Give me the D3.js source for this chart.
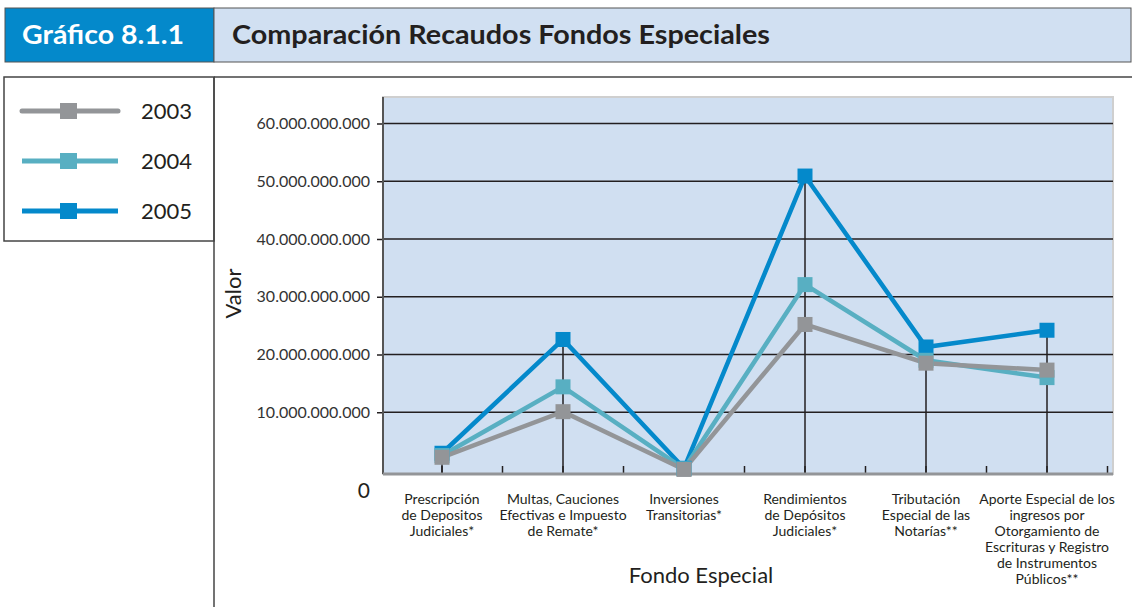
<!DOCTYPE html>
<html>
<head>
<meta charset="utf-8">
<script src="https://cdn.jsdelivr.net/npm/d3@7"></script>
<style>
  body { margin: 0; background: #fff; }
  svg { display: block; font-family: Lato, "Noto Sans", sans-serif; }
</style>
</head>
<body>
<svg id="chart" width="1132" height="607"></svg>
<script>
// data
const categories = [
  ['Prescripción', 'de Depositos', 'Judiciales*'],
  ['Multas, Cauciones', 'Efectivas e Impuesto', 'de Remate*'],
  ['Inversiones', 'Transitorias*'],
  ['Rendimientos', 'de Depósitos', 'Judiciales*'],
  ['Tributación', 'Especial de las', 'Notarías**'],
  ['Aporte Especial de los', 'ingresos por', 'Otorgamiento de', 'Escrituras y Registro', 'de Instrumentos', 'Públicos**']
];
const years = ['2003', '2004', '2005'];
const values2003 = [2.2e9, 10.1e9, 0.1e9, 25.2e9, 18.5e9, 17.3e9];
const values2004 = [2.5e9, 14.4e9, 0.2e9, 32.1e9, 19.0e9, 16.0e9];
const values2005 = [2.9e9, 22.6e9, 0.3e9, 50.9e9, 21.3e9, 24.2e9];
const yTicks = [10e9, 20e9, 30e9, 40e9, 50e9, 60e9];
const colors = { '2003': '#939598', '2004': '#58afc2', '2005': '#0489cb' };

const series = [
  { year: '2005', values: values2005 },
  { year: '2004', values: values2004 },
  { year: '2003', values: values2003 }
];

const svg = d3.select('#chart');
const ink = '#231f20';

// header
svg.append('rect').attr('x', 5).attr('y', 8).attr('width', 209).attr('height', 54).attr('fill', '#0489cb').attr('stroke', '#555').attr('stroke-width', 1);
svg.append('rect').attr('x', 214).attr('y', 8).attr('width', 917).attr('height', 54).attr('fill', '#d1e0f2').attr('stroke', '#555').attr('stroke-width', 1);
svg.append('text').attr('x', 22).attr('y', 44).text('Gráfico 8.1.1')
  .attr('textLength', 162).attr('lengthAdjust', 'spacingAndGlyphs')
  .attr('fill', '#fff').style('font-weight', 'bold').style('font-size', '26px');
svg.append('text').attr('x', 232).attr('y', 44).text('Comparación Recaudos Fondos Especiales')
  .attr('textLength', 538).attr('lengthAdjust', 'spacingAndGlyphs')
  .attr('fill', ink).style('font-weight', 'bold').style('font-size', '26px');

// frame lines
svg.append('rect').attr('x', 4).attr('y', 77).attr('width', 210).attr('height', 164).attr('fill', 'none').attr('stroke', '#444').attr('stroke-width', 1.5);
svg.append('line').attr('x1', 214).attr('y1', 77).attr('x2', 214).attr('y2', 607).attr('stroke', '#444').attr('stroke-width', 1.5);
svg.append('line').attr('x1', 214).attr('y1', 77).attr('x2', 1132).attr('y2', 77).attr('stroke', '#444').attr('stroke-width', 1.5);

// legend
const legend = svg.append('g');
years.forEach((yr, i) => {
  const ly = 111 + i * 50;
  legend.append('line').attr('x1', 22).attr('x2', 118).attr('y1', ly).attr('y2', ly)
    .attr('stroke', colors[yr]).attr('stroke-width', 5).attr('stroke-linecap', yr === '2003' ? 'round' : 'butt');
  legend.append('rect').attr('x', 60).attr('y', ly - 8).attr('width', 17).attr('height', 16).attr('fill', colors[yr]);
  legend.append('text').attr('x', 141).attr('y', ly + 8).text(yr)
    .attr('fill', ink).style('font-size', '22px');
});

// plot area
const plot = { left: 383, right: 1113, top: 97, bottom: 474 };
const x = d3.scaleBand().domain(d3.range(categories.length)).range([381.5, 1107.5]).padding(0);
const y = d3.scaleLinear().domain([0, 60e9]).range([470, 123.5]);
const cx = i => x(i) + x.bandwidth() / 2;

svg.append('rect').attr('x', plot.left).attr('y', plot.top)
  .attr('width', plot.right - plot.left).attr('height', plot.bottom - plot.top)
  .attr('fill', '#d0dff1').attr('stroke', '#cfcfcf').attr('stroke-width', 2);

const loc = d3.formatLocale({ decimal: ',', thousands: '.', grouping: [3], currency: ['$', ''] });
const fmt = loc.format(',');

// y axis with grid
const yAxis = svg.append('g').attr('transform', `translate(${plot.left},0)`)
  .call(d3.axisLeft(y).tickValues(yTicks).tickFormat(fmt).tickSize(6).tickPadding(7));
yAxis.select('.domain').remove();
yAxis.selectAll('.tick line').attr('stroke', ink).attr('stroke-width', 1.5);
yAxis.selectAll('.tick text').attr('fill', '#333').style('font-size', '16px').style('font-family', 'Lato, sans-serif');
svg.append('g').selectAll('line').data(yTicks).join('line')
  .attr('x1', plot.left).attr('x2', plot.right)
  .attr('y1', d => y(d)).attr('y2', d => y(d))
  .attr('stroke', ink).attr('stroke-width', 1.5);
svg.append('text').attr('x', plot.left - 13).attr('y', y(0) + 28).attr('text-anchor', 'end')
  .text('0').attr('fill', ink).style('font-size', '21px');
svg.append('line').attr('x1', plot.left).attr('x2', plot.left).attr('y1', plot.top).attr('y2', plot.bottom)
  .attr('stroke', '#555').attr('stroke-width', 2);

// drop lines from the highest point of each category
svg.append('g').selectAll('line').data(categories).join('line')
  .attr('x1', (d, i) => cx(i)).attr('x2', (d, i) => cx(i))
  .attr('y1', (d, i) => y(d3.max(series, s => s.values[i])))
  .attr('y2', plot.bottom)
  .attr('stroke', ink).attr('stroke-width', 1.5);

// minor ticks on x axis
const halfTicks = d3.range(categories.length * 2).map(k => x(Math.floor(k / 2)) + (k % 2 === 0 ? x.bandwidth() / 2 : x.bandwidth()));
svg.append('g').selectAll('line').data(halfTicks).join('line')
  .attr('x1', d => d).attr('x2', d => d)
  .attr('y1', plot.bottom - 8).attr('y2', plot.bottom)
  .attr('stroke', ink).attr('stroke-width', 1.5);

svg.append('line').attr('x1', plot.left).attr('x2', plot.right).attr('y1', plot.bottom).attr('y2', plot.bottom)
  .attr('stroke', '#939598').attr('stroke-width', 3);

// series
const line = d3.line().x((d, i) => cx(i)).y(d => y(d));
series.forEach(s => {
  svg.append('path').datum(s.values)
    .attr('fill', 'none').attr('stroke', colors[s.year]).attr('stroke-width', 4.5)
    .attr('stroke-linejoin', 'miter').attr('d', line);
});
series.forEach(s => {
  svg.append('g').selectAll('rect').data(s.values).join('rect')
    .attr('x', (d, i) => cx(i) - 7.5).attr('y', d => y(d) - 7.5)
    .attr('width', 15).attr('height', 15).attr('fill', colors[s.year]);
});

// category labels
const catLabels = svg.append('g');
categories.forEach((lines, i) => {
  const t = catLabels.append('text').attr('text-anchor', 'middle').attr('fill', ink).style('font-size', '14px');
  lines.forEach((ln, j) => {
    t.append('tspan').attr('x', cx(i)).attr('y', 504 + j * 16).text(ln);
  });
});

// axis titles
svg.append('text').attr('transform', `translate(241,${(plot.top + plot.bottom) / 2 + 8}) rotate(-90)`)
  .attr('text-anchor', 'middle').text('Valor').attr('fill', ink).style('font-size', '22px');
svg.append('text').attr('x', 701).attr('y', 583).attr('text-anchor', 'middle')
  .text('Fondo Especial').attr('fill', ink).style('font-size', '22px');
</script>
</body>
</html>
